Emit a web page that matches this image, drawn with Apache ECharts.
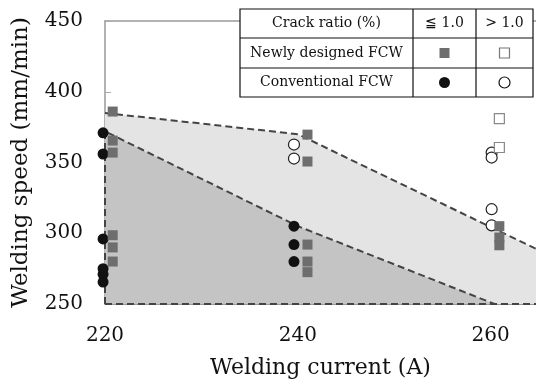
<!DOCTYPE html>
<html>
<head>
<meta charset="utf-8">
<script src="https://cdn.jsdelivr.net/npm/echarts@6/dist/echarts.min.js"></script>
<style>
  html, body { margin: 0; padding: 0; background: #fff; }
  #chart { width: 536px; height: 379px; }
</style>
</head>
<body>
<div id="chart"></div>
<script>
  // 数据
  var xTicks = [220, 240, 260];
  var yTicks = [250, 300, 350, 400, 450];

  // Newly designed FCW, crack ratio <= 1.0 (filled square)
  var newLow = [
    [220.8, 386], [220.8, 365.5], [220.8, 357], [220.8, 298.6], [220.8, 290], [220.8, 280],
    [241, 369.7], [241, 350.7], [241, 292], [241, 280], [241, 272.5],
    [260.9, 305], [260.9, 297], [260.9, 291.5]
  ];
  // Newly designed FCW, crack ratio > 1.0 (open square)
  var newHigh = [[260.9, 381], [260.9, 360.6]];
  // Conventional FCW, <= 1.0 (filled circle)
  var convLow = [
    [219.8, 371], [219.8, 356], [219.8, 296], [219.8, 275], [219.8, 271], [219.8, 265.5],
    [239.6, 305], [239.6, 292], [239.6, 280]
  ];
  // Conventional FCW, > 1.0 (open circle)
  var convHigh = [
    [239.6, 362.7], [239.6, 352.8],
    [260.1, 357], [260.1, 353.5], [260.1, 317], [260.1, 305.6]
  ];

  // 区域边界
  var lowerBound = [[220, 250], [220, 372], [240, 305], [260.4, 250]];
  var upperBound = [[220, 385], [240, 370], [264.7, 289]];
  var baseLine = [[220, 250], [264.7, 250]];
  var darkRegion = [[220, 250], [220, 372], [240, 305], [260.4, 250]];
  var lightRegion = [[220, 372], [220, 385], [240, 370], [264.7, 289], [264.7, 250], [260.4, 250], [240, 305]];

  var serif = '"DejaVu Serif", serif';

  function polygonSeries(points, color) {
    return {
      type: 'custom',
      silent: true,
      z: 1,
      data: points,
      renderItem: function (params, api) {
        if (params.dataIndex !== 0) {
          return;
        }
        var pts = points.map(function (p) { return api.coord(p); });
        return {
          type: 'polygon',
          shape: { points: pts },
          style: { fill: color }
        };
      }
    };
  }

  function dashed(points) {
    return {
      type: 'line',
      data: points,
      symbol: 'none',
      silent: true,
      z: 3,
      lineStyle: { color: '#444', width: 2, type: [7, 4] }
    };
  }

  // 图例表格
  var tblL = 240, tblR = 533, tblT = 9, tblB = 97;
  var colX = [413, 476];
  var rowY = [38, 68];
  var c1 = (tblL + colX[0]) / 2, c2 = (colX[0] + colX[1]) / 2, c3 = (colX[1] + tblR) / 2;
  var r1 = (tblT + rowY[0]) / 2, r2 = (rowY[0] + rowY[1]) / 2, r3 = (rowY[1] + tblB) / 2;
  var lineStyle = { stroke: '#111', lineWidth: 1.2 };

  function cellText(x, y, text) {
    return {
      type: 'text', x: x, y: y, z: 101,
      style: { text: text, font: '14px ' + serif, fill: '#111', align: 'center', verticalAlign: 'middle' }
    };
  }

  var tableGraphic = [
    { type: 'rect', z: 100, shape: { x: tblL, y: tblT, width: tblR - tblL, height: tblB - tblT }, style: { fill: '#fff', stroke: '#111', lineWidth: 1.2 } },
    { type: 'line', z: 101, shape: { x1: colX[0], y1: tblT, x2: colX[0], y2: tblB }, style: lineStyle },
    { type: 'line', z: 101, shape: { x1: colX[1], y1: tblT, x2: colX[1], y2: tblB }, style: lineStyle },
    { type: 'line', z: 101, shape: { x1: tblL, y1: rowY[0], x2: tblR, y2: rowY[0] }, style: lineStyle },
    { type: 'line', z: 101, shape: { x1: tblL, y1: rowY[1], x2: tblR, y2: rowY[1] }, style: lineStyle },
    cellText(c1, r1, 'Crack ratio (%)'),
    cellText(c2, r1, '≦ 1.0'),
    cellText(c3, r1, '> 1.0'),
    cellText(c1, r2, 'Newly designed FCW'),
    cellText(c1, r3, 'Conventional FCW'),
    { type: 'rect', z: 101, shape: { x: c2 - 5, y: r2 - 5, width: 10, height: 10 }, style: { fill: '#6e6e6e' } },
    { type: 'rect', z: 101, shape: { x: c3 - 5, y: r2 - 5, width: 10, height: 10 }, style: { fill: '#fff', stroke: '#777', lineWidth: 1.2 } },
    { type: 'circle', z: 101, shape: { cx: c2, cy: r3, r: 5.5 }, style: { fill: '#111' } },
    { type: 'circle', z: 101, shape: { cx: c3, cy: r3, r: 5.5 }, style: { fill: '#fff', stroke: '#111', lineWidth: 1.2 } }
  ];

  var chart = echarts.init(document.getElementById('chart'));
  var option = {
    animation: false,
    backgroundColor: '#fff',
    grid: { left: 105, right: 0, top: 21, bottom: 75, outerBoundsMode: 'none' },
    xAxis: [{
      type: 'value',
      min: xTicks[0],
      max: 264.7,
      interval: 20,
      name: 'Welding current (A)',
      nameLocation: 'middle',
      nameGap: 53,
      nameTextStyle: { fontFamily: serif, fontSize: 22, color: '#111' },
      axisLine: { show: true, lineStyle: { color: '#999' } },
      axisTick: { show: true, inside: true, length: 5, lineStyle: { color: '#aaa' } },
      axisLabel: { fontFamily: serif, fontSize: 20, color: '#111', margin: 22, showMaxLabel: false },
      splitLine: { show: false }
    }, {
      type: 'value',
      position: 'top',
      min: xTicks[0],
      max: 264.7,
      axisLine: { show: true, lineStyle: { color: '#999', width: 1.5 } },
      axisTick: { show: false },
      axisLabel: { show: false },
      splitLine: { show: false }
    }],
    yAxis: {
      type: 'value',
      min: yTicks[0],
      max: yTicks[yTicks.length - 1],
      interval: 50,
      name: 'Welding speed (mm/min)',
      nameLocation: 'middle',
      nameGap: 72,
      nameTextStyle: { fontFamily: serif, fontSize: 23, color: '#111' },
      axisLine: { show: true, lineStyle: { color: '#999', width: 1.5 } },
      axisTick: { show: true, inside: true, length: 6, lineStyle: { color: '#aaa' } },
      axisLabel: { fontFamily: serif, fontSize: 20, color: '#111', margin: 22 },
      splitLine: { show: false }
    },
    graphic: tableGraphic,
    series: [
      polygonSeries(lightRegion, '#e4e4e4'),
      polygonSeries(darkRegion, '#c4c4c4'),
      dashed(baseLine),
      dashed(lowerBound),
      dashed(upperBound),
      {
        type: 'scatter', data: convLow, symbol: 'circle', symbolSize: 11, z: 4, clip: false,
        itemStyle: { color: '#111', opacity: 1 }
      },
      {
        type: 'scatter', data: convHigh, symbol: 'circle', symbolSize: 11, z: 4, clip: false,
        itemStyle: { color: '#fff', borderColor: '#222', borderWidth: 1.2, opacity: 1 }
      },
      {
        type: 'scatter', data: newLow, symbol: 'rect', symbolSize: 10, z: 5, clip: false,
        itemStyle: { color: '#6e6e6e', opacity: 1 }
      },
      {
        type: 'scatter', data: newHigh, symbol: 'rect', symbolSize: 10, z: 5, clip: false,
        itemStyle: { color: '#fff', borderColor: '#888', borderWidth: 1.2, opacity: 1 }
      }
    ]
  };
  chart.setOption(option);
</script>
</body>
</html>
